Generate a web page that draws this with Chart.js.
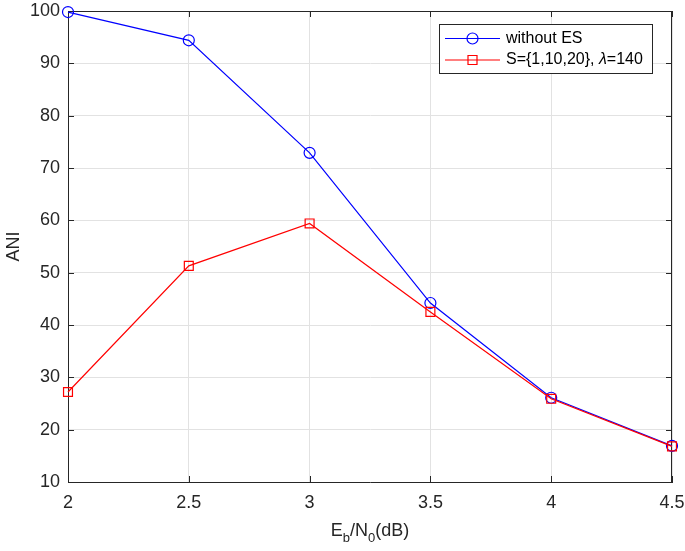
<!DOCTYPE html>
<html>
<head>
<meta charset="utf-8">
<script src="https://cdn.jsdelivr.net/npm/chart.js@4"></script>
<style>
  html, body { margin: 0; padding: 0; background: #fff; }
  #wrap { width: 685px; height: 551px; position: relative; }
</style>
</head>
<body>
<div id="wrap"><canvas id="chart"></canvas></div>
<script>
/* ── Data ── */
const ebn0      = [2, 2.5, 3, 3.5, 4, 4.5];
const withoutES = [99.8, 94.4, 72.9, 44.2, 26.1, 16.9];
const withES    = [27.2, 51.3, 59.4, 42.5, 25.9, 16.8];
const xTicks    = [2, 2.5, 3, 3.5, 4, 4.5];
const yTicks    = [10, 20, 30, 40, 50, 60, 70, 80, 90, 100];

const AXIS = '#262626';
const FONT = '"Liberation Sans", Arial, Helvetica, sans-serif';

const toPoints = (xs, ys) => xs.map((x, i) => ({ x, y: ys[i] }));

/* ── Box, inward ticks ── */
const boxPlugin = {
  id: 'box',
  beforeDatasetsDraw(chart) {
    const { ctx, chartArea: a, scales } = chart;
    ctx.save();
    ctx.strokeStyle = AXIS;
    ctx.lineWidth = 1;
    ctx.beginPath();
    ctx.moveTo(a.left, a.top + 0.5);
    ctx.lineTo(a.right, a.top + 0.5);
    ctx.moveTo(a.right - 0.5, a.top);
    ctx.lineTo(a.right - 0.5, a.bottom);
    xTicks.forEach(v => {
      const px = Math.round(scales.x.getPixelForValue(v)) + 0.5;
      ctx.moveTo(px, a.bottom); ctx.lineTo(px, a.bottom - 6);
      ctx.moveTo(px, a.top);    ctx.lineTo(px, a.top + 6);
    });
    yTicks.forEach(v => {
      const py = Math.round(scales.y.getPixelForValue(v)) + 0.5;
      ctx.moveTo(a.left, py);  ctx.lineTo(a.left + 6, py);
      ctx.moveTo(a.right, py); ctx.lineTo(a.right - 6, py);
    });
    ctx.stroke();
    ctx.restore();
  }
};

/* ── Axis titles (with subscripts) + legend ── */
const decorPlugin = {
  id: 'decor',
  afterDraw(chart) {
    const { ctx, chartArea: a } = chart;
    ctx.save();
    ctx.fillStyle = AXIS;

    // y title
    ctx.save();
    ctx.translate(14, (a.top + a.bottom) / 2);
    ctx.rotate(-Math.PI / 2);
    ctx.font = '18px ' + FONT;
    ctx.textAlign = 'center';
    ctx.textBaseline = 'middle';
    ctx.fillText('ANI', 0, 0);
    ctx.restore();

    // x title: E_b/N_0(dB)
    const parts = [['E', false], ['b', true], ['/N', false], ['0', true], ['(dB)', false]];
    const big = '18px ' + FONT, small = '13px ' + FONT;
    let total = 0;
    parts.forEach(([t, sub]) => { ctx.font = sub ? small : big; total += ctx.measureText(t).width; });
    let x = (a.left + a.right) / 2 - total / 2;
    const base = 536;
    ctx.textAlign = 'left';
    ctx.textBaseline = 'alphabetic';
    parts.forEach(([t, sub]) => {
      ctx.font = sub ? small : big;
      ctx.fillText(t, x, sub ? base + 6 : base);
      x += ctx.measureText(t).width;
    });

    // legend
    const lx = 439, ly = 24, lw = 213, lh = 49;
    ctx.fillStyle = '#fff';
    ctx.fillRect(lx, ly, lw, lh);
    ctx.strokeStyle = AXIS;
    ctx.lineWidth = 1;
    ctx.strokeRect(lx + 0.5, ly + 0.5, lw, lh);
    const rows = [
      { color: '#0000ff', style: 'circle', y: 38.5 },
      { color: '#ff0000', style: 'rect',   y: 60 }
    ];
    rows.forEach((r, i) => {
      ctx.strokeStyle = r.color;
      ctx.lineWidth = 1.2;
      ctx.beginPath();
      ctx.moveTo(445, r.y); ctx.lineTo(500, r.y);
      ctx.stroke();
      ctx.beginPath();
      if (r.style === 'circle') ctx.arc(472.5, r.y, 5.5, 0, Math.PI * 2);
      else ctx.rect(468, r.y - 4.5, 9, 9);
      ctx.stroke();
      ctx.fillStyle = '#000';
      ctx.textBaseline = 'middle';
      ctx.font = '16px ' + FONT;
      if (i === 0) {
        ctx.fillText('without ES', 506, r.y);
      } else {
        let tx = 506;
        ctx.fillText('S={1,10,20}, ', tx, r.y);
        tx += ctx.measureText('S={1,10,20}, ').width;
        ctx.font = 'italic 16px ' + FONT;
        ctx.fillText('λ', tx, r.y);
        tx += ctx.measureText('λ').width;
        ctx.font = '16px ' + FONT;
        ctx.fillText('=140', tx, r.y);
      }
    });
    ctx.restore();
  }
};

new Chart(document.getElementById('chart'), {
  type: 'line',
  data: {
    datasets: [
      {
        label: 'S={1,10,20}, λ=140',
        data: toPoints(ebn0, withES),
        borderColor: '#ff0000',
        borderWidth: 1.2,
        pointStyle: 'rect',
        pointRadius: 6.3,
        pointBorderWidth: 1.2,
        pointBorderColor: '#ff0000',
        pointBackgroundColor: 'rgba(0,0,0,0)',
        clip: false,
        order: 0
      },
      {
        label: 'without ES',
        data: toPoints(ebn0, withoutES),
        borderColor: '#0000ff',
        borderWidth: 1.2,
        pointStyle: 'circle',
        pointRadius: 5.5,
        pointBorderWidth: 1.2,
        pointBorderColor: '#0000ff',
        pointBackgroundColor: 'rgba(0,0,0,0)',
        clip: false,
        order: 1
      }
    ]
  },
  options: {
    responsive: true,
    maintainAspectRatio: false,
    animation: false,
    layout: { padding: { left: 0, right: 13, top: 11, bottom: 0 } },
    plugins: { legend: { display: false }, tooltip: { enabled: false } },
    scales: {
      x: {
        type: 'linear',
        min: 2, max: 4.5,
        afterBuildTicks: s => { s.ticks = xTicks.map(v => ({ value: v })); },
        afterFit: s => { s.height = 69; s.paddingLeft = 0; s.paddingRight = 0; },
        grid: { color: '#e2e2e2', lineWidth: 1, drawTicks: false },
        border: { color: AXIS, width: 1 },
        ticks: {
          color: AXIS, font: { family: FONT, size: 18 }, padding: 10, maxRotation: 0,
          callback: v => String(v)
        }
      },
      y: {
        type: 'linear',
        min: 10, max: 100,
        afterBuildTicks: s => { s.ticks = yTicks.map(v => ({ value: v })); },
        afterFit: s => { s.width = 68; s.paddingTop = 0; s.paddingBottom = 0; },
        grid: { color: '#e2e2e2', lineWidth: 1, drawTicks: false },
        border: { color: AXIS, width: 1 },
        ticks: { color: AXIS, font: { family: FONT, size: 18 }, padding: 8 }
      }
    }
  },
  plugins: [boxPlugin, decorPlugin]
});
</script>
</body>
</html>
